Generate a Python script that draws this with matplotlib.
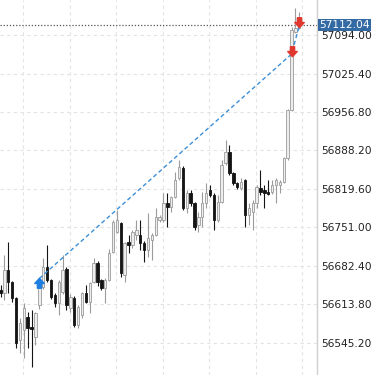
import matplotlib
matplotlib.use("Agg")
import matplotlib.pyplot as plt
from matplotlib.path import Path
import numpy as np

# OHLC candles (oldest -> newest)
opens = [56639.6, 56634.3, 56675.3, 56653.9, 56625.4, 56550.6, 56568.4, 56592.0, 56574.0, 56555.9,
         56612.9, 56645.0, 56680.6, 56657.4, 56630.7, 56616.5, 56636.1, 56677.0, 56607.5, 56625.4,
         56577.3, 56595.1, 56634.3, 56618.2, 56653.9, 56687.7, 56657.4, 56643.2, 56657.4, 56707.4,
         56743.0, 56759.0, 56666.4, 56725.2, 56719.8, 56737.7, 56737.7, 56723.4, 56710.9, 56728.8,
         56737.7, 56764.4, 56764.4, 56794.7, 56787.6, 56805.4, 56839.2, 56857.0, 56785.8, 56812.5,
         56794.7, 56755.5, 56769.8, 56794.7, 56817.8, 56808.9, 56764.4, 56796.5, 56865.9, 56885.5,
         56848.1, 56830.3, 56821.4, 56835.6, 56773.3, 56778.7, 56794.7, 56821.4, 56817.8, 56814.3,
         56814.3, 56826.7, 56826.7, 56832.1, 56874.8, 56960.4, 57099.3, 57106.5]
highs = [56648.5, 56702.0, 56725.2, 56655.0, 56627.0, 56589.7, 56616.5, 56600.4, 56604.0, 56600.0,
         56646.0, 56696.6, 56719.8, 56660.0, 56634.3, 56657.0, 56702.0, 56680.0, 56632.0, 56628.0,
         56612.0, 56636.0, 56648.5, 56654.0, 56696.6, 56691.0, 56660.0, 56661.0, 56712.0, 56764.0,
         56782.2, 56761.0, 56726.0, 56737.7, 56746.6, 56764.4, 56764.4, 56727.0, 56776.9, 56741.0,
         56785.8, 56773.3, 56812.5, 56812.5, 56807.0, 56849.9, 56871.0, 56860.0, 56817.8, 56817.8,
         56796.0, 56778.7, 56814.0, 56830.0, 56826.7, 56812.5, 56808.9, 56871.3, 56906.9, 56898.0,
         56850.0, 56832.0, 56840.0, 56838.0, 56794.7, 56800.0, 56826.7, 56853.5, 56826.7, 56835.6,
         56835.6, 56839.2, 56836.0, 56877.0, 56963.0, 57108.0, 57142.1, 57135.0]
lows = [56627.1, 56621.8, 56634.3, 56618.2, 56536.3, 56527.4, 56518.5, 56536.3, 56502.4, 56541.6,
        56605.0, 56641.0, 56653.9, 56623.0, 56609.3, 56595.1, 56632.0, 56604.0, 56600.4, 56573.7,
        56571.9, 56590.0, 56616.5, 56598.6, 56652.0, 56646.0, 56639.6, 56616.5, 56655.0, 56705.0,
        56741.0, 56662.0, 56653.9, 56705.6, 56714.0, 56728.8, 56710.9, 56689.5, 56698.4, 56693.0,
        56735.0, 56760.8, 56760.8, 56751.9, 56778.7, 56803.6, 56836.0, 56782.2, 56776.9, 56790.0,
        56746.6, 56743.0, 56751.9, 56785.8, 56805.0, 56746.6, 56760.8, 56794.7, 56862.4, 56844.6,
        56826.7, 56819.0, 56817.0, 56751.9, 56755.5, 56746.6, 56785.0, 56808.9, 56785.8, 56808.9,
        56810.7, 56794.7, 56812.5, 56830.0, 56872.0, 56958.0, 57097.5, 57104.0]
closes = [56634.3, 56675.3, 56653.9, 56625.4, 56545.2, 56580.8, 56607.5, 56572.0, 56570.0, 56598.6,
          56643.2, 56680.6, 56657.4, 56627.1, 56616.5, 56653.9, 56675.3, 56612.9, 56627.1, 56577.3,
          56609.3, 56634.3, 56618.2, 56652.1, 56687.7, 56653.9, 56643.2, 56657.4, 56705.6, 56760.8,
          56764.4, 56669.9, 56723.4, 56719.8, 56743.0, 56746.6, 56723.4, 56710.9, 56732.3, 56737.7,
          56769.8, 56769.8, 56794.7, 56787.6, 56805.4, 56835.6, 56858.8, 56785.8, 56812.5, 56794.7,
          56751.9, 56769.8, 56794.7, 56812.5, 56808.9, 56764.4, 56796.5, 56862.4, 56885.5, 56848.1,
          56830.3, 56823.2, 56832.1, 56773.3, 56785.8, 56794.7, 56823.2, 56814.3, 56812.5, 56810.7,
          56826.7, 56835.6, 56832.1, 56874.8, 56960.4, 57102.9, 57106.5, 57112.04]

price_ticks = [56545.20, 56613.80, 56682.40, 56751.00, 56819.60, 56888.20, 56956.80, 57025.40, 57094.00]
top_cut_label = 57162.60
current_price = 57112.04

# trade marks: buy at bar 10, exits at bars 75 and 77
trade_bars = [10, 75, 77]
trade_prices = [56660.0, 57060.0, 57110.0]
buy_arrow = (10, 56652.0)
sell_arrows = [(75, 57066.0), (77, 57117.0)]

grid_bars = [5.8, 17.8, 29.8, 41.8, 53.8, 65.8, 77.8]

fig = plt.figure(figsize=(3.75, 3.75), dpi=100)
ax = fig.add_axes([0, 0, 317 / 375, 1])

x = np.arange(len(opens))
o = np.array(opens)
c = np.array(closes)
h = np.array(highs)
l = np.array(lows)
up = c >= o

bull_edge = "#9b9b9b"
bear_col = "#141414"

ax.vlines(x[up], l[up], h[up], color=bull_edge, lw=0.8, zorder=2)
ax.vlines(x[~up], l[~up], h[~up], color=bear_col, lw=0.8, zorder=2)
body_h = np.maximum(np.abs(c - o), 1.5)
ax.bar(x[up], body_h[up], bottom=np.minimum(o, c)[up], width=0.62,
       color="#ededed", edgecolor=bull_edge, linewidth=0.6, zorder=3)
ax.bar(x[~up], body_h[~up], bottom=np.minimum(o, c)[~up], width=0.62,
       color=bear_col, edgecolor=bear_col, linewidth=0.6, zorder=3)

# trade line
ax.plot(trade_bars, trade_prices, color="#3d8fd6", lw=1.0, ls=(0, (3, 2)), zorder=4)

# arrow markers
up_arrow = Path([(-1, 0), (0, 1.1), (1, 0), (0.45, 0), (0.45, -1), (-0.45, -1), (-0.45, 0), (-1, 0)],
                [Path.MOVETO] + [Path.LINETO] * 6 + [Path.CLOSEPOLY])
down_arrow = Path([(vx, -vy) for vx, vy in up_arrow.vertices], up_arrow.codes)
ax.plot([buy_arrow[0]], [buy_arrow[1]], marker=up_arrow, ms=7.5, color="#1f7fe0", ls="none", zorder=5)
ax.plot([p[0] for p in sell_arrows], [p[1] for p in sell_arrows], marker=down_arrow, ms=7.5,
        color="#e0382e", ls="none", zorder=5)

# current price line
ax.axhline(current_price, color="#555555", lw=0.9, ls=(0, (1, 1.5)), zorder=1)

ax.set_xlim(-0.13, 81.57)
ax.set_ylim(56488.1, 57156.4)

ax.set_yticks(price_ticks)
ax.set_yticklabels([f"{p:.2f}" for p in price_ticks])
ax.yaxis.tick_right()
ax.tick_params(axis="y", length=0, pad=3, labelsize=7.7, labelcolor="#222222")
ax.set_xticks(grid_bars)
ax.tick_params(axis="x", length=0, labelbottom=False)
ax.grid(True, color="#e3e3e3", lw=0.8, ls=(0, (3, 3)))
ax.set_axisbelow(True)

for side in ["top", "left", "bottom"]:
    ax.spines[side].set_visible(False)
ax.spines["right"].set_color("#d0d0d0")
ax.spines["right"].set_linewidth(1.0)

ax.text(1.0, top_cut_label, f"  {top_cut_label:.2f}".strip(), transform=ax.get_yaxis_transform(),
        ha="left", va="center", fontsize=7.7, color="#222222", clip_on=False)
for t in ax.texts:
    t.set_x(1.0 + 3 / 317)

ax.text(1.0 + 2 / 317, current_price, f"{current_price:.2f}", transform=ax.get_yaxis_transform(),
        ha="left", va="center", fontsize=7.7, color="white", clip_on=False, zorder=10,
        bbox=dict(boxstyle="square,pad=0.12", facecolor="#336aa3", edgecolor="none"))

fig.savefig("out.png", dpi=100)
